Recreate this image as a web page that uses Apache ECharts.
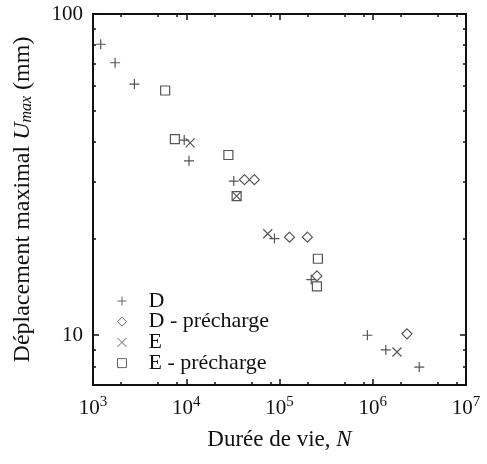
<!DOCTYPE html>
<html>
<head>
<meta charset="utf-8">
<script src="https://cdn.jsdelivr.net/npm/echarts@6/dist/echarts.min.js"></script>
<style>
	html, body { margin: 0; padding: 0; background: #fff; }
	#chart { width: 487px; height: 464px; }
</style>
</head>
<body>
<div id="chart"></div>
<script>
	// D
	var dN = [1210, 1725, 2780, 9510, 10700, 32300, 88300, 219000, 877000, 1380000, 3150000];
	var dU = [80.5, 70.5, 60.5, 40.5, 34.9, 30.2, 20.0, 14.9, 10.0, 9.0, 7.96];
	// D - précharge
	var dpN = [42100, 53800, 128000, 199000, 252000, 2330000];
	var dpU = [30.5, 30.5, 20.2, 20.2, 15.3, 10.1];
	// E
	var eN = [11000, 34700, 74800, 1820000];
	var eU = [39.7, 27.1, 20.7, 8.87];
	// E - précharge
	var epN = [5940, 7550, 28300, 34700, 258000, 252000];
	var epU = [57.8, 40.8, 36.4, 27.1, 17.3, 14.2];

	var xMajor = [1e3, 1e4, 1e5, 1e6, 1e7];
	var xMinor = [2e3, 5e3, 8e3, 2e4, 5e4, 8e4, 2e5, 5e5, 8e5, 2e6, 5e6, 8e6];
	var yMajor = [10, 100];
	var yMinor = [8, 9, 20, 30, 40, 50, 60, 70, 80, 90];

	var font = 'Liberation Serif';
	var ink = '#111';
	var mark = '#555';

	function pairs(xs, ys) {
		var out = [];
		for (var i = 0; i < xs.length; i++) {
			out.push([xs[i], ys[i]]);
		}
		return out;
	}

	function powLabel(v) {
		var e = Math.round(Math.log(v) / Math.LN10);
		return '{b|10}{s|' + e + '}';
	}

	/*axes: one with major ticks + labels, one with minor ticks, per side*/
	function xAx(pos, ticks, len, labels) {
		return {
			type: 'log', min: 1e3, max: 1e7, position: pos,
			axisLine: { show: true, lineStyle: { color: ink, width: 2 } },
			axisTick: { show: true, inside: true, length: len, customValues: ticks, lineStyle: { color: ink, width: 1.5 } },
			axisLabel: labels ? {
				show: true, margin: 10, customValues: xMajor, formatter: powLabel,
				rich: {
					b: { fontFamily: font, fontSize: 21, color: ink, lineHeight: 26 },
					s: { fontFamily: font, fontSize: 15, color: ink, verticalAlign: 'top', lineHeight: 15 }
				}
			} : { show: false },
			splitLine: { show: false }
		};
	}

	function yAx(pos, ticks, len, labels) {
		return {
			type: 'log', min: 7, max: 100, position: pos,
			axisLine: { show: true, lineStyle: { color: ink, width: 2 } },
			axisTick: { show: true, inside: true, length: len, customValues: ticks, lineStyle: { color: ink, width: 1.5 } },
			axisLabel: labels ? {
				show: true, margin: 10, customValues: yMajor,
				fontFamily: font, fontSize: 21, color: ink
			} : { show: false },
			splitLine: { show: false }
		};
	}

	var xAxes = [
		xAx('bottom', xMajor, 6, true),
		xAx('bottom', xMinor, 3, false),
		xAx('top', xMajor, 6, false),
		xAx('top', xMinor, 3, false)
	];
	xAxes[0].name = 'Durée de vie, {i|N}';
	xAxes[0].nameLocation = 'middle';
	xAxes[0].nameGap = 43;
	xAxes[0].nameTextStyle = {
		fontFamily: font, fontSize: 23, color: ink,
		rich: { i: { fontFamily: font, fontSize: 23, fontStyle: 'italic', color: ink } }
	};

	var yAxes = [
		yAx('left', yMajor, 6, true),
		yAx('left', yMinor, 3, false),
		yAx('right', yMajor, 6, false),
		yAx('right', yMinor, 3, false)
	];
	yAxes[0].name = 'Déplacement maximal {i|U}{s|max} (mm)';
	yAxes[0].nameLocation = 'middle';
	yAxes[0].nameRotate = 90;
	yAxes[0].nameGap = 58;
	yAxes[0].nameTextStyle = {
		fontFamily: font, fontSize: 24, color: ink,
		rich: {
			i: { fontFamily: font, fontSize: 24, fontStyle: 'italic', color: ink },
			s: { fontFamily: font, fontSize: 16, fontStyle: 'italic', color: ink, verticalAlign: 'bottom' }
		}
	};

	var plusPath = 'path://M0,5L10,5M5,0L5,10';
	var crossPath = 'path://M0,0L10,10M10,0L0,10';

	function serie(name, data, symbol, size) {
		return {
			name: name, type: 'scatter', data: data,
			symbol: symbol, symbolSize: size,
			xAxisIndex: 0, yAxisIndex: 0,
			itemStyle: { color: 'rgba(0,0,0,0)', borderColor: mark, borderWidth: 1.2, opacity: 1 }
		};
	}

	var chart = echarts.init(document.getElementById('chart'), null, { renderer: 'canvas' });
	chart.setOption({
		animation: false,
		backgroundColor: '#fff',
		grid: { left: 93, right: 21, top: 14, bottom: 79 },
		legend: {
			orient: 'vertical', left: 112, top: 285,
			itemWidth: 9, itemHeight: 9, itemGap: -1.3,
			itemStyle: { borderWidth: 1, borderColor: '#666' },
			textStyle: { fontFamily: font, fontSize: 22, color: ink, lineHeight: 20.7, padding: [0, 0, 0, 17] },
			data: ['D', 'D - précharge', 'E', 'E - précharge']
		},
		xAxis: xAxes,
		yAxis: yAxes,
		series: [
			serie('D', pairs(dN, dU), plusPath, 10),
			serie('D - précharge', pairs(dpN, dpU), 'diamond', 10),
			serie('E', pairs(eN, eU), crossPath, 9),
			serie('E - précharge', pairs(epN, epU), 'rect', 9)
		]
	});
</script>
</body>
</html>
